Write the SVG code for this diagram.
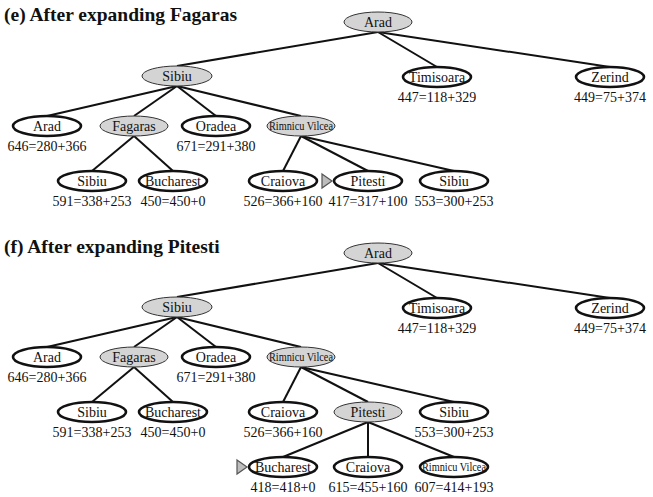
<svg xmlns="http://www.w3.org/2000/svg" width="653" height="497" viewBox="0 0 653 497">
<style>
.t{font-family:"Liberation Serif","Times New Roman",serif;font-size:14px;fill:#111;text-anchor:middle}
.rv{font-family:"Liberation Serif","Times New Roman",serif;font-size:12px;fill:#111;text-anchor:middle}
.ttl{font-family:"Liberation Serif","Times New Roman",serif;font-size:19.5px;font-weight:bold;fill:#111}
.g ellipse{fill:#d4d4d4;stroke:#333;stroke-width:1}
.w ellipse{fill:#fff;stroke:#111;stroke-width:2.6}
.edges line{stroke:#111;stroke-width:2}
.tri{fill:#bdbdbd;stroke:#555;stroke-width:1.2}
</style>
<rect width="653" height="497" fill="#fff"/>

<!-- Panel e -->
<text class="ttl" x="4" y="21">(e) After expanding Fagaras</text>
<g class="edges" id="edges-e">
<line x1="378" y1="32" x2="177" y2="66"/>
<line x1="378" y1="32" x2="437" y2="67"/>
<line x1="378" y1="32" x2="610" y2="67"/>
<line x1="177" y1="86" x2="47" y2="116"/>
<line x1="177" y1="86" x2="134" y2="116"/>
<line x1="177" y1="86" x2="216" y2="116"/>
<line x1="177" y1="86" x2="301" y2="116"/>
<line x1="134" y1="136" x2="92" y2="171"/>
<line x1="134" y1="136" x2="173" y2="171"/>
<line x1="301" y1="136" x2="283" y2="171"/>
<line x1="301" y1="136" x2="368" y2="171"/>
<line x1="301" y1="136" x2="454" y2="171"/>
</g>
<g id="e-arad0" class="g"><ellipse cx="378" cy="22" rx="34" ry="10"/><text class="t" x="378" y="27">Arad</text></g>
<g id="e-sibiu1" class="g"><ellipse cx="177" cy="76" rx="35" ry="10"/><text class="t" x="177" y="81">Sibiu</text></g>
<g id="e-timisoara" class="w"><ellipse cx="437" cy="77" rx="34" ry="10"/><text class="t" x="437" y="82">Timisoara</text><text class="t" x="437" y="102">447=118+329</text></g>
<g id="e-zerind" class="w"><ellipse cx="610" cy="77" rx="34" ry="10"/><text class="t" x="610" y="82">Zerind</text><text class="t" x="610" y="102">449=75+374</text></g>
<g id="e-arad2" class="w"><ellipse cx="47" cy="126" rx="34" ry="10"/><text class="t" x="47" y="131">Arad</text><text class="t" x="47" y="151">646=280+366</text></g>
<g id="e-fagaras" class="g"><ellipse cx="134" cy="126" rx="34" ry="10"/><text class="t" x="134" y="131">Fagaras</text></g>
<g id="e-oradea" class="w"><ellipse cx="216" cy="126" rx="34" ry="10"/><text class="t" x="216" y="131">Oradea</text><text class="t" x="216" y="151">671=291+380</text></g>
<g id="e-rimnicu" class="g"><ellipse cx="301" cy="126" rx="34" ry="10"/><text class="rv" x="301" y="130" textLength="64" lengthAdjust="spacingAndGlyphs">Rimnicu Vilcea</text></g>
<g id="e-sibiu3" class="w"><ellipse cx="92" cy="181" rx="34" ry="10"/><text class="t" x="92" y="186">Sibiu</text><text class="t" x="92" y="206">591=338+253</text></g>
<g id="e-bucharest" class="w"><ellipse cx="173" cy="181" rx="34" ry="10"/><text class="t" x="173" y="186">Bucharest</text><text class="t" x="173" y="206">450=450+0</text></g>
<g id="e-craiova" class="w"><ellipse cx="283" cy="181" rx="34" ry="10"/><text class="t" x="283" y="186">Craiova</text><text class="t" x="283" y="206">526=366+160</text></g>
<g id="e-pitesti" class="w"><ellipse cx="368" cy="181" rx="34" ry="10"/><text class="t" x="368" y="186">Pitesti</text><text class="t" x="368" y="206">417=317+100</text></g>
<g id="e-sibiu3b" class="w"><ellipse cx="454" cy="181" rx="34" ry="10"/><text class="t" x="454" y="186">Sibiu</text><text class="t" x="454" y="206">553=300+253</text></g>
<polygon class="tri" points="322,174 332,181 322,188"/>

<!-- Panel f -->
<text class="ttl" x="4" y="253">(f) After expanding Pitesti</text>
<g class="edges" id="edges-f">
<line x1="378" y1="263" x2="177" y2="297"/>
<line x1="378" y1="263" x2="437" y2="298"/>
<line x1="378" y1="263" x2="610" y2="298"/>
<line x1="177" y1="317" x2="47" y2="347"/>
<line x1="177" y1="317" x2="134" y2="347"/>
<line x1="177" y1="317" x2="216" y2="347"/>
<line x1="177" y1="317" x2="301" y2="347"/>
<line x1="134" y1="367" x2="92" y2="402"/>
<line x1="134" y1="367" x2="173" y2="402"/>
<line x1="301" y1="367" x2="283" y2="402"/>
<line x1="301" y1="367" x2="368" y2="402"/>
<line x1="301" y1="367" x2="454" y2="402"/>
<line x1="368" y1="422" x2="283" y2="457"/>
<line x1="368" y1="422" x2="368" y2="457"/>
<line x1="368" y1="422" x2="454" y2="457"/>
</g>
<g id="f-arad0" class="g"><ellipse cx="378" cy="253" rx="34" ry="10"/><text class="t" x="378" y="258">Arad</text></g>
<g id="f-sibiu1" class="g"><ellipse cx="177" cy="307" rx="35" ry="10"/><text class="t" x="177" y="312">Sibiu</text></g>
<g id="f-timisoara" class="w"><ellipse cx="437" cy="308" rx="34" ry="10"/><text class="t" x="437" y="313">Timisoara</text><text class="t" x="437" y="333">447=118+329</text></g>
<g id="f-zerind" class="w"><ellipse cx="610" cy="308" rx="34" ry="10"/><text class="t" x="610" y="313">Zerind</text><text class="t" x="610" y="333">449=75+374</text></g>
<g id="f-arad2" class="w"><ellipse cx="47" cy="357" rx="34" ry="10"/><text class="t" x="47" y="362">Arad</text><text class="t" x="47" y="382">646=280+366</text></g>
<g id="f-fagaras" class="g"><ellipse cx="134" cy="357" rx="34" ry="10"/><text class="t" x="134" y="362">Fagaras</text></g>
<g id="f-oradea" class="w"><ellipse cx="216" cy="357" rx="34" ry="10"/><text class="t" x="216" y="362">Oradea</text><text class="t" x="216" y="382">671=291+380</text></g>
<g id="f-rimnicu" class="g"><ellipse cx="301" cy="357" rx="34" ry="10"/><text class="rv" x="301" y="361" textLength="64" lengthAdjust="spacingAndGlyphs">Rimnicu Vilcea</text></g>
<g id="f-sibiu3" class="w"><ellipse cx="92" cy="412" rx="34" ry="10"/><text class="t" x="92" y="417">Sibiu</text><text class="t" x="92" y="437">591=338+253</text></g>
<g id="f-bucharest3" class="w"><ellipse cx="173" cy="412" rx="34" ry="10"/><text class="t" x="173" y="417">Bucharest</text><text class="t" x="173" y="437">450=450+0</text></g>
<g id="f-craiova3" class="w"><ellipse cx="283" cy="412" rx="34" ry="10"/><text class="t" x="283" y="417">Craiova</text><text class="t" x="283" y="437">526=366+160</text></g>
<g id="f-pitesti" class="g"><ellipse cx="368" cy="412" rx="34" ry="10"/><text class="t" x="368" y="417">Pitesti</text></g>
<g id="f-sibiu3b" class="w"><ellipse cx="454" cy="412" rx="34" ry="10"/><text class="t" x="454" y="417">Sibiu</text><text class="t" x="454" y="437">553=300+253</text></g>
<g id="f-bucharest4" class="w"><ellipse cx="283" cy="467" rx="34" ry="10"/><text class="t" x="283" y="472">Bucharest</text><text class="t" x="283" y="492">418=418+0</text></g>
<g id="f-craiova4" class="w"><ellipse cx="368" cy="467" rx="34" ry="10"/><text class="t" x="368" y="472">Craiova</text><text class="t" x="368" y="492">615=455+160</text></g>
<g id="f-rimnicu4" class="w"><ellipse cx="454" cy="467" rx="34" ry="10"/><text class="rv" x="454" y="471" textLength="64" lengthAdjust="spacingAndGlyphs">Rimnicu Vilcea</text><text class="t" x="454" y="492">607=414+193</text></g>
<polygon class="tri" points="237,460 247,467 237,474"/>
</svg>
